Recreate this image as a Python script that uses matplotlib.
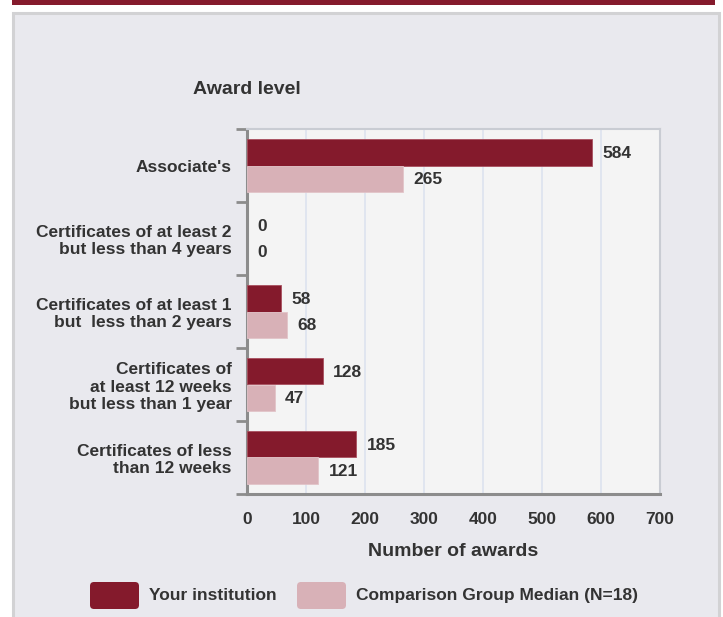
"""Awards by award level: your institution vs comparison group median."""

import matplotlib
matplotlib.use("Agg")
import matplotlib.pyplot as plt
from matplotlib.patches import Rectangle, FancyBboxPatch

# ── Data ─────────────────────────────────────────────────────────────────────
CATEGORIES = [
    "Associate's",
    "Certificates of at least 2\nbut less than 4 years",
    "Certificates of at least 1\nbut  less than 2 years",
    "Certificates of\nat least 12 weeks\nbut less than 1 year",
    "Certificates of less\nthan 12 weeks",
]
YOURS  = [584, 0, 58, 128, 185]
MEDIAN = [265, 0, 68, 47, 121]
X_TICKS = [0, 100, 200, 300, 400, 500, 600, 700]
SERIES_NAMES = ["Your institution", "Comparison Group Median (N=18)"]

DARK   = "#841a2c"
LIGHT  = "#d8b1b7"
PANEL  = "#e9e9ee"
PLOTBG = "#f4f4f4"
GRID   = "#dce3ef"
TEXT   = "#333333"
AXIS   = "#8c8c8c"

plt.rcParams["font.family"] = ["Liberation Sans", "DejaVu Sans"]
plt.rcParams["font.weight"] = "bold"

W, H, DPI = 723, 617, 100
fig = plt.figure(figsize=(W / DPI, H / DPI), dpi=DPI, facecolor="white")

# ── Background layer in pixel coords ─────────────────────────────────────────
bg = fig.add_axes([0, 0, 1, 1], zorder=0)
bg.set_xlim(0, W)
bg.set_ylim(H, 0)
bg.axis("off")
bg.add_patch(Rectangle((12, 0), 703, 5, color="#851b2d", lw=0))
bg.add_patch(Rectangle((13, 13), 706, 620, facecolor=PANEL,
                       edgecolor="#d2d2d4", lw=2.2))

# ── Main axes ────────────────────────────────────────────────────────────────
L, R, T, B = 247, 660, 129, 494
ax = fig.add_axes([L / W, 1 - B / H, (R - L) / W, (B - T) / H], zorder=2)
ax.set_facecolor(PLOTBG)

n = len(CATEGORIES)
pos = list(range(n))
bh = 0.36
ax.barh([p - bh / 2 for p in pos], YOURS, height=bh, color=DARK,
        edgecolor="#a8505f", lw=[0.6 if v else 0 for v in YOURS], zorder=3)
ax.barh([p + bh / 2 for p in pos], MEDIAN, height=bh, color=LIGHT,
        edgecolor="#e2c4c9", lw=[0.6 if v else 0 for v in MEDIAN], zorder=3)

for p, v in zip(pos, YOURS):
    ax.annotate(f"{v}", (v, p - bh / 2), xytext=(7.5, -0.5), textcoords="offset points",
                va="center", ha="left", fontsize=12.5, color=TEXT, fontweight="bold")
for p, v in zip(pos, MEDIAN):
    ax.annotate(f"{v}", (v, p + bh / 2), xytext=(7.5, -0.5), textcoords="offset points",
                va="center", ha="left", fontsize=12.5, color=TEXT, fontweight="bold")

ax.set_xlim(0, 700)
ax.set_ylim(n - 0.5, -0.5)
ax.set_xticks(X_TICKS)
ax.set_xticklabels([str(t) for t in X_TICKS])
ax.tick_params(axis="x", length=0, pad=13, labelsize=12.5, labelcolor=TEXT)
ax.grid(axis="x", color=GRID, lw=1.2, zorder=1)
ax.set_axisbelow(True)

# tick marks at category boundaries, labels at centres
ax.set_yticks([i - 0.5 for i in range(n + 1)])
ax.set_yticklabels([])
ax.set_yticks(pos, minor=True)
ax.set_yticklabels(CATEGORIES, minor=True, fontsize=12.5, color=TEXT,
                   fontweight="bold", linespacing=1.2)
ax.tick_params(axis="y", which="major", length=8, width=2, color=AXIS)
ax.tick_params(axis="y", which="minor", length=0, pad=11)

for s in ("left", "bottom"):
    ax.spines[s].set_color(AXIS)
    ax.spines[s].set_linewidth(2.2)
for s in ("top", "right"):
    ax.spines[s].set_color("#c9ccd3")
    ax.spines[s].set_linewidth(1.5)

# axis titles
fig.text(246.5 / W, 1 - 89 / H, "Award level", ha="center", va="center",
         fontsize=14, color=TEXT, fontweight="bold")
fig.text(453.5 / W, 1 - 551 / H, "Number of awards", ha="center", va="center",
         fontsize=14, color=TEXT, fontweight="bold")

# ── Legend ───────────────────────────────────────────────────────────────────
for (x0, col), name in zip([(90, DARK), (297, LIGHT)], SERIES_NAMES):
    bg.add_patch(FancyBboxPatch((x0 + 4, 586), 41, 19,
                                boxstyle="round,pad=4", color=col, lw=0))
    bg.text(x0 + 59, 595.5, name, ha="left", va="center", fontsize=12.5,
            color=TEXT, fontweight="bold")

fig.savefig("out.png", dpi=DPI, facecolor="white")
